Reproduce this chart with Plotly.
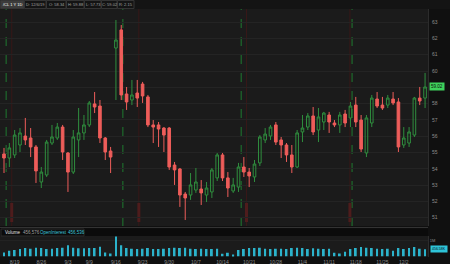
import plotly.graph_objects as go

dates = ["8/15", "8/16", "8/19", "8/20", "8/21", "8/22", "8/23", "8/26", "8/27", "8/28",
         "8/29", "8/30", "9/3", "9/4", "9/5", "9/6", "9/9", "9/10", "9/11", "9/12",
         "9/13", "9/16", "9/17", "9/18", "9/19", "9/20", "9/23", "9/24", "9/25", "9/26",
         "9/27", "9/30", "10/1", "10/2", "10/3", "10/4", "10/7", "10/8", "10/9", "10/10",
         "10/11", "10/14", "10/15", "10/16", "10/17", "10/18", "10/21", "10/22", "10/23", "10/24",
         "10/25", "10/28", "10/29", "10/30", "10/31", "11/1", "11/4", "11/5", "11/6", "11/7",
         "11/8", "11/11", "11/12", "11/13", "11/14", "11/15", "11/18", "11/19", "11/20", "11/21",
         "11/22", "11/25", "11/26", "11/27", "11/29", "12/2", "12/3", "12/4", "12/5", "12/6"]

opens = [54.91, 54.66, 54.85, 55.46, 56.01, 55.89, 55.34, 53.19, 53.62, 55.58,
         55.89, 56.56, 54.97, 53.80, 55.77, 56.20, 56.69, 57.98, 57.85, 55.89,
         55.09, 61.41, 62.52, 58.59, 58.22, 58.65, 59.20, 58.41, 56.69, 56.69,
         56.50, 56.50, 54.23, 53.99, 52.45, 52.39, 52.70, 52.76, 52.39, 52.58,
         53.44, 54.85, 53.44, 52.64, 52.88, 54.11, 53.80, 53.50, 54.36, 55.77,
         56.01, 56.69, 55.77, 55.46, 54.85, 54.11, 56.26, 56.56, 57.24, 56.38,
         56.87, 57.30, 56.81, 56.69, 57.36, 57.12, 57.91, 56.99, 54.97, 56.81,
         58.28, 57.91, 57.91, 58.28, 58.10, 55.46, 55.58, 56.07, 58.34, 58.34]

highs = [55.28, 55.58, 56.38, 56.50, 57.12, 56.50, 55.46, 54.11, 55.77, 56.69,
         56.81, 56.69, 55.03, 56.38, 57.73, 57.30, 58.16, 58.71, 58.22, 55.95,
         55.34, 63.13, 62.82, 59.02, 59.45, 59.45, 59.33, 58.53, 56.99, 56.87,
         56.56, 56.56, 54.42, 54.05, 52.58, 53.74, 54.05, 53.31, 53.19, 54.05,
         54.97, 54.97, 53.80, 53.44, 54.36, 54.72, 54.05, 54.54, 56.07, 56.50,
         56.69, 56.87, 55.95, 55.58, 55.46, 56.38, 57.30, 57.42, 57.79, 57.73,
         57.49, 57.49, 56.99, 57.49, 57.61, 58.10, 58.41, 57.30, 57.30, 58.53,
         58.71, 58.41, 58.53, 58.71, 58.34, 56.56, 56.56, 58.41, 59.02, 59.88]

lows = [53.74, 54.11, 54.66, 55.03, 55.46, 54.72, 53.13, 52.82, 53.50, 55.46,
        55.77, 54.54, 52.58, 53.68, 54.72, 55.77, 56.56, 57.42, 55.58, 54.54,
        53.74, 58.22, 58.22, 57.61, 57.91, 57.79, 58.04, 56.56, 55.58, 55.34,
        55.03, 53.93, 53.01, 51.66, 50.86, 52.09, 52.52, 51.78, 51.96, 52.21,
        53.25, 53.25, 52.27, 52.52, 52.58, 53.50, 52.88, 53.19, 54.17, 55.58,
        55.77, 55.46, 54.66, 54.42, 53.74, 54.05, 55.64, 56.38, 56.07, 55.64,
        56.38, 56.20, 56.56, 56.20, 56.56, 56.56, 56.56, 55.03, 54.72, 56.56,
        57.73, 57.61, 57.73, 57.91, 55.03, 55.28, 55.34, 55.95, 57.91, 57.73]

closes = [54.66, 55.28, 56.07, 56.20, 55.77, 55.34, 53.87, 53.80, 55.64, 55.95,
          56.56, 55.03, 53.80, 55.95, 56.20, 56.69, 58.04, 57.79, 55.89, 55.03,
          54.72, 61.90, 58.53, 58.10, 58.53, 58.34, 58.47, 56.69, 56.56, 56.44,
          56.07, 54.11, 53.93, 52.39, 52.21, 53.01, 53.19, 52.52, 52.82, 53.93,
          54.85, 53.44, 52.82, 53.01, 54.11, 53.80, 53.56, 54.29, 55.95, 56.13,
          56.56, 55.64, 55.46, 54.85, 54.11, 56.20, 56.50, 57.24, 56.26, 57.18,
          57.42, 56.87, 56.69, 57.30, 56.81, 57.85, 56.87, 55.21, 57.12, 58.34,
          57.85, 57.73, 58.34, 58.04, 55.34, 55.89, 56.26, 58.34, 58.16, 59.02]

volumes = [252000, 361000, 418000, 476000, 532000, 489000, 547000, 541000, 482000, 495000,
           538000, 552000, 716000, 549000, 531000, 527000, 544000, 536000, 612000, 246000,
           188000, 1262000, 718000, 541000, 487000, 472000, 493000, 538000, 481000, 476000,
           492000, 546000, 551000, 539000, 547000, 486000, 478000, 491000, 483000, 476000,
           488000, 181000, 237000, 126000, 418000, 482000, 541000, 538000, 552000, 487000,
           479000, 491000, 484000, 478000, 536000, 547000, 539000, 482000, 531000, 487000,
           476000, 489000, 242000, 183000, 297000, 481000, 538000, 603000, 547000, 541000,
           486000, 479000, 488000, 362000, 534000, 481000, 537000, 598000, 489000, 456576]

week_labels = ["8/19", "8/26", "9/3", "9/9", "9/16", "9/23", "9/30", "10/7", "10/14",
               "10/21", "10/28", "11/4", "11/11", "11/18", "11/25", "12/2"]
price_ticks = [51, 52, 53, 54, 55, 56, 57, 58, 59, 60, 61, 62, 63, 64]

# event markers (bar-index positions)
green_marks = [0.4, 22.3, 44.5, 65.3]
red_marks = [1.45, 25.3, 45.5, 64.9]

header_fields = ["/CL 1 Y 1D", "D: 12/6/19", "O: 58.34", "H: 59.88", "L: 57.73", "C: 59.02", "R: 2.15"]

W, H = 450, 264


def px(x):
    return x / W


def py(y):
    return (H - y) / H


BG = "#1b1b1b"
PAPER = "#101010"
RED = "#ee5d5a"
GREEN = "#2f8e3e"
CYAN = "#2bb3cb"

fig = go.Figure()
fig.add_trace(go.Candlestick(
    x=dates, open=opens, high=highs, low=lows, close=closes,
    increasing=dict(line=dict(color=GREEN, width=1), fillcolor="rgba(0,0,0,0)"),
    decreasing=dict(line=dict(color=RED, width=1), fillcolor=RED),
    whiskerwidth=0, xaxis="x", yaxis="y", showlegend=False, hoverinfo="skip"))

fig.add_trace(go.Bar(x=dates, y=volumes, marker=dict(color=CYAN, line=dict(width=0)),
                     width=0.35, xaxis="x2", yaxis="y2", showlegend=False, hoverinfo="skip"))

xr = [-0.75, 79.55]
xdom = [0, px(428)]
price_dom = [py(226), 1.0]
vol_dom = [py(256.5), py(236)]

# the last-price box covers the tick label nearest to it
last_close = closes[-1]
tick_text = ["" if abs(t - last_close) < 0.5 else f"{t}" for t in price_ticks]

fig.update_layout(
    width=W, height=H, margin=dict(l=0, r=0, t=0, b=0),
    paper_bgcolor=PAPER, plot_bgcolor=BG,
    font=dict(family="Liberation Sans, Arial", size=5, color="#8c8c8c"),
    xaxis=dict(domain=xdom, range=xr, type="category", showticklabels=False,
               showgrid=False, zeroline=False, rangeslider=dict(visible=False),
               tickvals=week_labels, anchor="y", fixedrange=True),
    yaxis=dict(domain=price_dom, range=[50.49, 64.356], side="right",
               tickvals=price_ticks, ticktext=tick_text,
               tickfont=dict(size=5, color="#8c8c8c"), gridcolor="#242424",
               gridwidth=1, zeroline=False, showline=True, linecolor="#2c2c2c",
               anchor="x", ticks="", ticklabelstandoff=2),
    xaxis2=dict(domain=xdom, range=xr, type="category", tickvals=week_labels,
                ticktext=week_labels, tickfont=dict(size=5, color="#8c8c8c"),
                showgrid=False, zeroline=False, anchor="y2", ticks="",
                ticklabelstandoff=1),
    yaxis2=dict(domain=vol_dom, range=[0, 1300000], side="right",
                tickvals=[1000000], ticktext=["1M"],
                tickfont=dict(size=4, color="#8c8c8c"), gridcolor="#222222",
                zeroline=False, showline=True, linecolor="#2c2c2c", anchor="x2", ticks=""),
)

shapes = []
for m in green_marks:
    shapes.append(dict(type="line", xref="x", yref="y domain", x0=m, x1=m, y0=0, y1=0.96,
                       line=dict(color="#1f7a30", width=1, dash="dash"), layer="below"))
for m in red_marks:
    shapes.append(dict(type="line", xref="x", yref="y domain", x0=m, x1=m, y0=0, y1=0.96,
                       line=dict(color="#371717", width=1), layer="below"))
    shapes.append(dict(type="line", xref="x", yref="y domain", x0=m, x1=m,
                       y0=(226 - 222) / 226, y1=(226 - 203) / 226,
                       line=dict(color="#4e1c1c", width=3), layer="below"))
shapes.append(dict(type="line", xref="paper", yref="paper", x0=0, x1=px(428),
                   y0=py(227.5), y1=py(227.5), line=dict(color="#333333", width=1)))
shapes.append(dict(type="rect", xref="paper", yref="paper", x0=0, x1=px(428),
                   y0=py(236), y1=py(228.5), fillcolor="#0b0b0b", line=dict(width=0)))
shapes.append(dict(type="rect", xref="paper", yref="paper", x0=px(1), x1=px(84),
                   y0=py(236), y1=py(229), fillcolor="rgba(0,0,0,0)",
                   line=dict(color="#2a2a2a", width=1)))
shapes.append(dict(type="rect", xref="paper", yref="paper", x0=0, x1=1,
                   y0=py(9), y1=1, fillcolor="#141414", line=dict(width=0)))
edges = [0.5, 24.5, 46.5, 66.5, 84.5, 101.5, 117.5, 134.5]
for k in range(len(header_fields)):
    shapes.append(dict(type="rect", xref="paper", yref="paper", x0=px(edges[k]), x1=px(edges[k + 1] - 0.5),
                       y0=py(8.5), y1=py(0.5),
                       fillcolor="#3c3c3c" if k == 0 else "rgba(0,0,0,0)",
                       line=dict(color="#343434", width=1)))
fig.update_layout(shapes=shapes)

ann = []
for k, txt in enumerate(header_fields):
    ann.append(dict(xref="paper", yref="paper", x=px((edges[k] + edges[k + 1]) / 2), y=py(4.5),
                    text=txt, showarrow=False, xanchor="center", yanchor="middle",
                    font=dict(size=4, color="#ffffff" if k == 0 else "#a0a0a0")))
ann.append(dict(xref="paper", yref="paper", x=px(3), y=py(232.5), text="Volume", showarrow=False,
                xanchor="left", yanchor="middle", font=dict(size=4.5, color="#e0e0e0")))
ann.append(dict(xref="paper", yref="paper", x=px(21), y=py(232.5), text=f"{volumes[-1]:,}",
                showarrow=False, xanchor="left", yanchor="middle", font=dict(size=4.5, color="#a0a0a0")))
ann.append(dict(xref="paper", yref="paper", x=px(38), y=py(232.5), text="OpenInterest", showarrow=False,
                xanchor="left", yanchor="middle", font=dict(size=4.5, color="#3cc7dc")))
ann.append(dict(xref="paper", yref="paper", x=px(66), y=py(232.5), text="456,536", showarrow=False,
                xanchor="left", yanchor="middle", font=dict(size=4.5, color="#3cc7dc")))
ann.append(dict(xref="paper", yref="y", x=px(437), y=last_close, text=f"{last_close:.2f}",
                showarrow=False, xanchor="center", yanchor="middle", bgcolor="#3fd15c",
                borderpad=1, font=dict(size=4.5, color="#0a0a0a")))
ann.append(dict(xref="paper", yref="y2", x=px(438.5), y=volumes[-1], text=f"{volumes[-1]/1000:.2f}K",
                showarrow=False, xanchor="center", yanchor="middle", bgcolor="#2ec4d8",
                borderpad=1, font=dict(size=3.5, color="#0a0a0a")))
fig.update_layout(annotations=ann)

fig.write_html("out.html")
